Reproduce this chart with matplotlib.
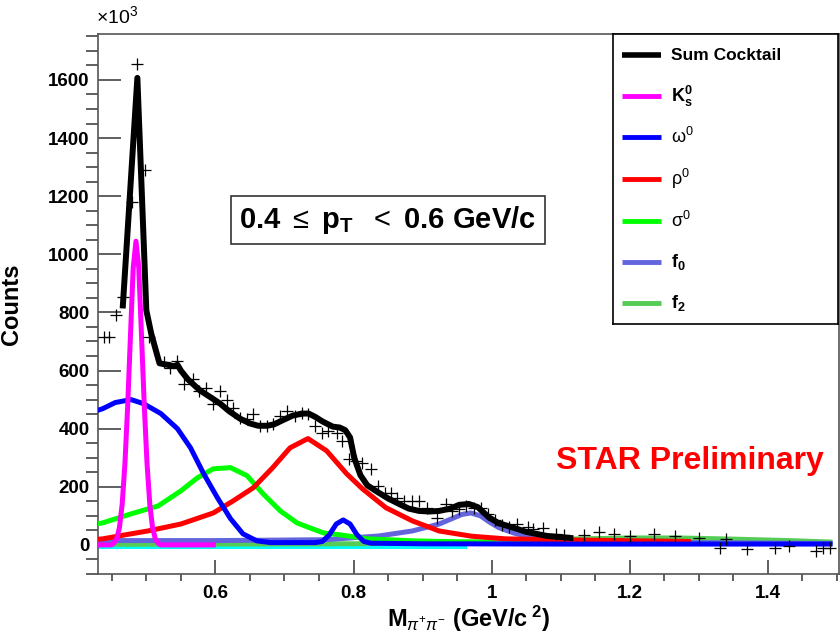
import matplotlib
matplotlib.use("Agg")
import matplotlib.pyplot as plt
from matplotlib.patches import Rectangle
from matplotlib.ticker import MultipleLocator

plt.rcParams['font.family'] = ['Liberation Sans', 'DejaVu Sans']
plt.rcParams['mathtext.fontset'] = 'custom'
plt.rcParams['mathtext.rm'] = 'Liberation Sans'
plt.rcParams['mathtext.bf'] = 'Liberation Sans:bold'
plt.rcParams['mathtext.it'] = 'Liberation Sans:italic'

# --- dados (contagens em unidades de 10^3) ---
dados_x = [0.439, 0.446, 0.456, 0.466, 0.479, 0.486, 0.498, 0.504, 0.525, 0.534,
           0.545, 0.555, 0.567, 0.576, 0.586, 0.596, 0.606, 0.617, 0.626, 0.636,
           0.646, 0.655, 0.665, 0.675, 0.683, 0.694, 0.704, 0.715, 0.725, 0.734,
           0.744, 0.754, 0.763, 0.776, 0.784, 0.794, 0.804, 0.813, 0.826, 0.835,
           0.845, 0.855, 0.863, 0.873, 0.885, 0.895, 0.906, 0.921, 0.934, 0.942,
           0.953, 0.963, 0.974, 0.985, 0.995, 1.005, 1.015, 1.025, 1.037, 1.053,
           1.060, 1.074, 1.093, 1.105, 1.134, 1.155, 1.177, 1.200, 1.235, 1.265,
           1.300, 1.330, 1.340, 1.370, 1.410, 1.430, 1.470, 1.480, 1.490]
dados_y = [714, 714, 790, 852, 1179, 1655, 1290, 714, 628, 610,
           634, 555, 572, 531, 541, 486, 531, 497, 472, 438,
           434, 452, 410, 410, 417, 445, 462, 445, 455, 452,
           410, 386, 393, 386, 359, 297, 290, 283, 262, 203,
           179, 179, 162, 152, 152, 152, 128, 93, 141, 117,
           124, 134, 128, 128, 105, 85, 70, 62, 72, 62,
           55, 59, 38, 34, 34, 45, 38, 30, 38, 31,
           25, -10, 21, -14, -10, -3, -21, -10, -10]

soma_x = [0.466, 0.487, 0.500, 0.507, 0.515, 0.519, 0.530, 0.540, 0.545, 0.550,
          0.560, 0.578, 0.595, 0.607, 0.620, 0.636, 0.650, 0.662, 0.675, 0.685,
          0.700, 0.712, 0.725, 0.735, 0.745, 0.755, 0.770, 0.780, 0.788, 0.795,
          0.801, 0.810, 0.820, 0.837, 0.850, 0.866, 0.880, 0.895, 0.910, 0.924,
          0.940, 0.953, 0.967, 0.980, 0.996, 1.010, 1.032, 1.050, 1.080, 1.100, 1.114]
soma_y = [824, 1607, 807, 728, 659, 625, 620, 615, 620, 600,
          570, 531, 505, 486, 460, 434, 418, 410, 410, 415,
          432, 445, 452, 452, 440, 425, 407, 404, 395, 370,
          300, 240, 205, 179, 160, 141, 125, 117, 115, 117,
          125, 138, 141, 130, 95, 75, 59, 45, 31, 27, 24]

k0_x = [0.430, 0.449, 0.453, 0.457, 0.461, 0.465, 0.469, 0.473, 0.477, 0.481,
        0.485, 0.489, 0.493, 0.497, 0.501, 0.505, 0.509, 0.513, 0.517, 0.521, 0.597]
k0_y = [0, 0, 6, 21, 59, 140, 280, 480, 720, 955,
        1045, 955, 720, 480, 280, 140, 59, 21, 6, 0, 0]

omega_x = [0.432, 0.437, 0.455, 0.478, 0.496, 0.521, 0.545, 0.564, 0.583, 0.603,
           0.622, 0.640, 0.660, 0.680, 0.745, 0.755, 0.765, 0.775, 0.785, 0.795,
           0.805, 0.815, 0.825, 0.900, 1.100, 1.300, 1.490]
omega_y = [465, 469, 490, 500, 486, 452, 400, 334, 245, 162,
           90, 38, 14, 8, 8, 12, 35, 72, 86, 72,
           35, 12, 6, 4, 3, 3, 3]

rho_x = [0.432, 0.437, 0.470, 0.502, 0.550, 0.597, 0.626, 0.655, 0.683, 0.708,
         0.734, 0.761, 0.790, 0.813, 0.847, 0.885, 0.924, 0.971, 1.020, 1.115, 1.285]
rho_y = [20, 21, 35, 48, 72, 110, 152, 197, 266, 334,
         366, 324, 245, 193, 128, 83, 48, 30, 21, 17, 12]

sigma_x = [0.432, 0.437, 0.478, 0.517, 0.550, 0.574, 0.597, 0.622, 0.646, 0.669,
           0.694, 0.718, 0.741, 0.757, 0.780, 0.820, 0.887, 0.950, 1.000]
sigma_y = [74, 76, 107, 134, 186, 231, 262, 266, 238, 176,
           117, 76, 55, 41, 35, 21, 14, 11, 10]

f0_x = [0.432, 0.600, 0.760, 0.837, 0.885, 0.924, 0.957, 0.970, 0.984, 0.996,
        1.010, 1.032, 1.055, 1.080, 1.114, 1.200, 1.300, 1.490]
f0_y = [15, 15, 18, 31, 48, 72, 105, 110, 100, 80,
        60, 41, 28, 21, 14, 10, 8, 5]

f2_x = [0.432, 0.800, 1.000, 1.110, 1.200, 1.270, 1.350, 1.430, 1.490]
f2_y = [2, 4, 10, 20, 24, 24, 20, 15, 10]

fundo_x = [0.432, 0.960]
fundo_y = [-3, -3]

rotulos = ['Sum Cocktail', r'$\mathbf{K}^{\mathbf{0}}_{\mathbf{s}}$', 'ω$^{0}$',
           'ρ$^{0}$', 'σ$^{0}$', r'$\mathbf{f}_{\mathbf{0}}$', r'$\mathbf{f}_{\mathbf{2}}$']
negrito = [True, True, False, False, False, True, True]
cores = ['black', '#ff00ff', '#0000ff', '#ff0000', '#00ff00', '#6464dc', '#55cc55']

# --- figura ---
fig = plt.figure(figsize=(8.4, 6.33), dpi=100)
ax = fig.add_axes([98 / 840, 1 - 574 / 633, 741 / 840, 540 / 633])

ax.plot(fundo_x, fundo_y, color='#00ffff', lw=3.6, zorder=2)
ax.plot(f2_x, f2_y, color=cores[6], lw=3.6, zorder=3)
ax.plot(f0_x, f0_y, color=cores[5], lw=3.6, zorder=3)
ax.plot(sigma_x, sigma_y, color=cores[4], lw=3.6, zorder=4)
ax.plot(rho_x, rho_y, color=cores[3], lw=3.6, zorder=4)
ax.plot(omega_x, omega_y, color=cores[2], lw=3.6, zorder=5)
ax.plot(k0_x, k0_y, color=cores[1], lw=3.6, zorder=6)
ax.plot(soma_x, soma_y, color=cores[0], lw=4.3, zorder=7)
ax.plot(dados_x, dados_y, linestyle='none', marker='+', color='black',
        markersize=8, markeredgewidth=0.9, zorder=8)

ax.set_xlim(0.43, 1.503)
ax.set_ylim(-100, 1758)
ax.xaxis.set_major_locator(MultipleLocator(0.2))
ax.xaxis.set_minor_locator(MultipleLocator(0.05))
ax.yaxis.set_major_locator(MultipleLocator(200))
ax.yaxis.set_minor_locator(MultipleLocator(50))
ax.set_xticks([0.6, 0.8, 1.0, 1.2, 1.4])
ax.set_xticklabels(['0.6', '0.8', '1', '1.2', '1.4'])
ax.tick_params(axis='both', direction='in', colors='#444444', labelcolor='black',
               labelsize=13.5, width=1.2)
ax.tick_params(axis='x', which='major', length=10, pad=8)
ax.tick_params(axis='x', which='minor', length=5, width=1.2, colors='#444444')
ax.tick_params(axis='y', which='major', length=16.5, pad=6)
ax.tick_params(axis='y', which='minor', length=8.5, width=1.2, colors='#444444')
for lbl in ax.get_xticklabels() + ax.get_yticklabels():
    lbl.set_fontweight('bold')
for lado in ['left', 'bottom', 'top', 'right']:
    ax.spines[lado].set_color('#555555')
    ax.spines[lado].set_linewidth(1.2)

ax.set_ylabel('Counts', fontsize=17, fontweight='bold', labelpad=18)
ax.set_xlabel(r'$\mathbf{M}_{\pi^{+}\pi^{-}}$ (GeV/c$^{\ \mathbf{2}}$)',
              fontsize=17, fontweight='bold', labelpad=1)
fig.text(96 / 840, 1 - 16 / 633, r'$\times$10$^{3}$', fontsize=14, va='center', ha='left')

# caixa de texto pT
fig.add_artist(Rectangle((231 / 840, 1 - 244 / 633), 314 / 840, 48 / 633,
                         transform=fig.transFigure, fill=False, ec='#333333', lw=1.2))
fig.text(387 / 840, 1 - 220 / 633,
         r'$\mathbf{0.4}\ \leq\ \mathbf{p}_{\mathbf{T}}\ \ <\ \mathbf{0.6\ GeV/c}$',
         fontsize=21, ha='center', va='center')

fig.text(690 / 840, 1 - 461 / 633, 'STAR Preliminary', color='#ff0000',
         fontsize=23, fontweight='bold', ha='center', va='center')

# legenda manual
leg = fig.add_axes([613 / 840, 1 - 324 / 633, 225 / 840, 290 / 633])
leg.set_xlim(613, 838)
leg.set_ylim(324, 34)
leg.set_xticks([])
leg.set_yticks([])
for lado in leg.spines.values():
    lado.set_color('black')
    lado.set_linewidth(1.2)
linhas_y = [55, 96, 137, 179, 221, 262, 303]
for i, (rot, cor) in enumerate(zip(rotulos, cores)):
    leg.plot([622, 661], [linhas_y[i], linhas_y[i]], color=cor, lw=4 if i == 0 else 3.5,
             solid_capstyle='butt')
    leg.text(671, linhas_y[i], rot, fontsize=12.5 if i == 0 else 13,
             fontweight='bold' if negrito[i] else 'normal', va='center', ha='left')

fig.savefig('out.png', dpi=100)
